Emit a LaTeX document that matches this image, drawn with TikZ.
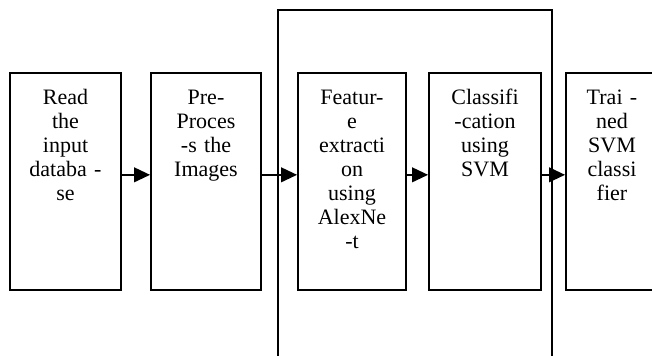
\documentclass[tikz,border=0pt]{standalone}
\usepackage{fontspec}
\setmainfont{Liberation Serif}
\usetikzlibrary{arrows.meta}
\tikzset{
  stage/.style={draw, line width=1.4pt, inner sep=0pt, text width=#1, align=center,
    text height=23.5pt, text depth=139.25pt, font=\fontsize{16.5pt}{18pt}\selectfont},
  flow/.style={line width=1.4pt, -{Triangle[length=12pt,width=11pt]}}
}
\begin{document}
\begin{tikzpicture}[x=0.75pt,y=-0.75pt]
\useasboundingbox (0,0) rectangle (652,356);
\draw[line width=1.4pt] (278,362) -- (278,10) -- (552,10) -- (552,362); % edit here for the frame
\node[stage=83.25pt] (read) at (65.5,181.5) {Read\\the\\input\\databa -\\se};
\node[stage=82.5pt] (prep) at (206,181.5) {Pre-\\Proces\\-s the\\Images};
\node[stage=81pt] (feat) at (352,181.5) {Featur-\\e\\extracti\\on\\using\\AlexNe\\-t};
\node[stage=84pt] (clas) at (485,181.5) {Classifi\\-cation\\using\\SVM};
\node[stage=69pt] (svm) at (612,181.5) {Trai -\\ned\\SVM\\classi\\fier};
\draw[flow] ([yshift=5pt]read.east) -- ([yshift=5pt]prep.west);
\draw[flow] ([yshift=5pt]prep.east) -- ([yshift=5pt]feat.west);
\draw[flow] ([yshift=5pt]feat.east) -- ([yshift=5pt]clas.west);
\draw[flow] ([yshift=5pt]clas.east) -- ([yshift=5pt]svm.west);
\end{tikzpicture}
\end{document}
